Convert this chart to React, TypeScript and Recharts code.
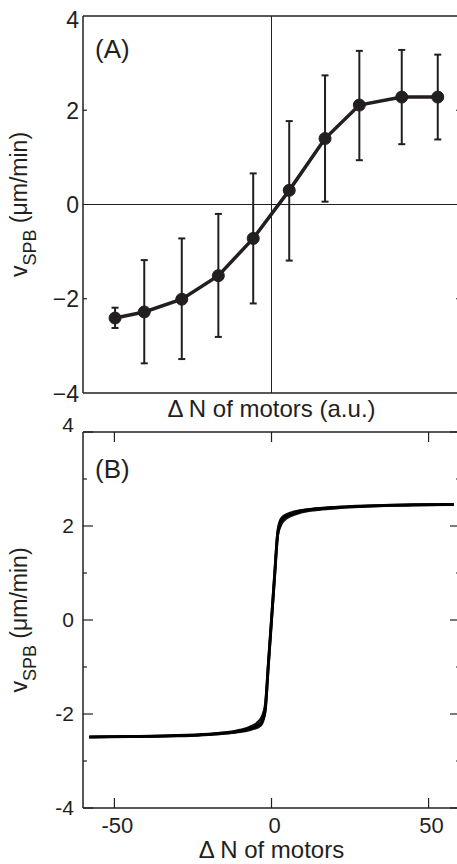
import React from 'react';
import { LineChart, Line, XAxis, YAxis, ReferenceLine, ErrorBar } from 'recharts';

// panel A: measured velocity vs motor imbalance (a.u.)
const aX = [-0.83, -0.675, -0.476, -0.282, -0.097, 0.094, 0.284, 0.466, 0.691, 0.882];
const aMean = [-2.41, -2.28, -2.01, -1.51, -0.72, 0.3, 1.4, 2.11, 2.28, 2.28];
const aLow = [-2.62, -3.37, -3.28, -2.81, -2.1, -1.19, 0.06, 0.94, 1.28, 1.38];
const aHigh = [-2.19, -1.18, -0.72, -0.2, 0.66, 1.77, 2.74, 3.26, 3.28, 3.18];

// panel B: model curves
const bX = [-58, -45, -30, -20, -14, -10, -7, -5, -4, -3, -2, -1, 0, 1, 2, 3, 4, 6, 9, 14, 20, 30, 45, 58];
const bFit1 = [-2.49, -2.48, -2.46, -2.43, -2.4, -2.36, -2.31, -2.26, -2.22, -2.15, -1.9, -0.95, 0.0, 0.95, 1.85, 2.1, 2.18, 2.25, 2.31, 2.36, 2.39, 2.42, 2.45, 2.46];
const bFit2 = [-2.49, -2.48, -2.46, -2.43, -2.39, -2.34, -2.28, -2.21, -2.15, -2.05, -1.8, -0.9, 0.05, 1.0, 1.9, 2.15, 2.22, 2.28, 2.33, 2.37, 2.4, 2.43, 2.45, 2.46];
const bFit3 = [-2.49, -2.48, -2.47, -2.44, -2.41, -2.38, -2.34, -2.3, -2.27, -2.2, -1.95, -1.0, -0.05, 0.9, 1.8, 2.02, 2.12, 2.21, 2.28, 2.34, 2.38, 2.42, 2.44, 2.46];

const aYTicks = [-4, -2, 0, 2, 4];
const aXTicks = [0];
const bYTicks = [-4, -3, -2, -1, 0, 1, 2, 3, 4];
const bXTicks = [-50, 0, 50];

const INK = '#231f20';
const FONT = '"Liberation Sans", Arial, Helvetica, sans-serif';

const dataA = aX.map((x, i) => ({
  x,
  v: aMean[i],
  err: [aMean[i] - aLow[i], aHigh[i] - aMean[i]],
}));

const dataB = bX.map((x, i) => ({ x, f1: bFit1[i], f2: bFit2[i], f3: bFit3[i] }));

type TickOpts = {
  side: 'left' | 'right' | 'top' | 'bottom';
  len: (v: number) => number;
  label?: (v: number) => string | null;
  gap?: number;
  dy?: number;
  topDy?: number;
  dx?: number;
  fontSize?: number;
};

// inward tick mark + outward label; tickSize/tickMargin are 0 so (x, y) sits on the axis line
function makeTick(o: TickOpts) {
  return (props: any) => {
    const { x, y, payload } = props;
    const v = payload.value as number;
    const l = o.len(v);
    let line: any = null;
    if (l > 0) {
      if (o.side === 'left') line = <line x1={x} x2={x + l} y1={y} y2={y} stroke={INK} strokeWidth={1.2} />;
      if (o.side === 'right') line = <line x1={x} x2={x - l} y1={y} y2={y} stroke={INK} strokeWidth={1.2} />;
      if (o.side === 'top') line = <line x1={x} x2={x} y1={y} y2={y + l} stroke={INK} strokeWidth={1.2} />;
      if (o.side === 'bottom') line = <line x1={x} x2={x} y1={y} y2={y - l} stroke={INK} strokeWidth={1.2} />;
    }
    const txt = o.label ? o.label(v) : null;
    let text: any = null;
    if (txt !== null) {
      if (o.side === 'left') {
        const dy = v === 4 && o.topDy !== undefined ? o.topDy : o.dy || 0;
        text = (
          <text x={x - (o.gap || 0)} y={y + dy} textAnchor="end" fill={INK} fontSize={o.fontSize} fontFamily={FONT}>
            {txt}
          </text>
        );
      }
      if (o.side === 'bottom') {
        text = (
          <text x={x + (o.dx || 0)} y={y + (o.gap || 0)} textAnchor="middle" fill={INK} fontSize={o.fontSize} fontFamily={FONT}>
            {txt}
          </text>
        );
      }
    }
    return (
      <g>
        {line}
        {text}
      </g>
    );
  };
}

function YTitle(props: any) {
  const vb = props.viewBox || { x: 0, y: 0, width: 0, height: 0 };
  const cx = vb.x + 27;
  const cy = vb.y + vb.height / 2;
  return (
    <text
      x={cx}
      y={cy}
      transform={`rotate(-90, ${cx}, ${cy})`}
      textAnchor="middle"
      fill={INK}
      fontSize={23}
      fontFamily={FONT}
    >
      v
      <tspan fontSize={18} dy={9}>SPB</tspan>
      <tspan dy={-9}> (μm/min)</tspan>
    </text>
  );
}

function XTitle(props: any) {
  const vb = props.viewBox || { x: 0, y: 0, width: 0, height: 0 };
  return (
    <text
      x={vb.x + vb.width / 2}
      y={vb.y + props.offsetY}
      textAnchor="middle"
      fill={INK}
      fontSize={24}
      fontFamily={FONT}
    >
      {props.text}
    </text>
  );
}

function PanelTag(props: any) {
  const vb = props.viewBox || { x: 0, y: 0, width: 0, height: 0 };
  return (
    <text x={vb.x + 12} y={vb.y + props.offsetY} fill={INK} fontSize={26} fontFamily={FONT}>
      {props.text}
    </text>
  );
}

const axisLine = { stroke: INK, strokeWidth: 1.5 };

export default function App() {
  return (
    <div
      style={{
        position: 'absolute',
        left: 0,
        top: 0,
        width: 457,
        height: 864,
        overflow: 'hidden',
        background: '#fff',
      }}
    >
      {/* (A) */}
      <div style={{ position: 'absolute', left: 0, top: 0 }}>
        <LineChart width={480} height={430} data={dataA} margin={{ top: 15, right: 19, bottom: 0, left: 0 }}>
          <XAxis
            dataKey="x"
            type="number"
            domain={[-1, 1]}
            allowDataOverflow
            ticks={aXTicks}
            interval={0}
            tickSize={0}
            tickMargin={0}
            tickLine={false}
            tick={makeTick({ side: 'bottom', len: () => 0 })}
            axisLine={axisLine}
            height={37}
            label={<XTitle text="Δ N of motors (a.u.)" offsetY={24} />}
          />
          <XAxis
            xAxisId="top"
            dataKey="x"
            orientation="top"
            type="number"
            domain={[-1, 1]}
            allowDataOverflow
            ticks={aXTicks}
            interval={0}
            tickSize={0}
            tickMargin={0}
            tickLine={false}
            tick={makeTick({ side: 'top', len: () => 0 })}
            axisLine={axisLine}
            height={1}
            label={<PanelTag text="(A)" offsetY={43} />}
          />
          <YAxis
            type="number"
            domain={[-4, 4]}
            allowDataOverflow
            ticks={aYTicks}
            interval={0}
            width={83}
            tickSize={0}
            tickMargin={0}
            tickLine={false}
            axisLine={axisLine}
            tick={makeTick({
              side: 'left',
              len: (v) => (Math.abs(v) === 2 ? 4 : 0),
              label: (v) => (v < 0 ? '\u2212' + Math.abs(v) : String(v)),
              gap: 4,
              dy: 8.5,
              topDy: 12,
              fontSize: 23,
            })}
            label={<YTitle />}
          />
          <YAxis
            yAxisId="right"
            orientation="right"
            type="number"
            domain={[-4, 4]}
            allowDataOverflow
            ticks={aYTicks}
            interval={0}
            width={1}
            tickSize={0}
            tickMargin={0}
            tickLine={false}
            axisLine={axisLine}
            tick={makeTick({ side: 'right', len: (v) => (Math.abs(v) === 2 ? 4 : 0) })}
          />
          <ReferenceLine x={0} stroke={INK} strokeWidth={1} />
          <ReferenceLine y={0} stroke={INK} strokeWidth={1} />
          {/* invisible series so the top/right frame axes get drawn */}
          <Line
            xAxisId="top"
            yAxisId="right"
            dataKey="v"
            stroke="none"
            dot={false}
            activeDot={false}
            legendType="none"
            isAnimationActive={false}
          />
          <Line
            dataKey="v"
            type="linear"
            stroke={INK}
            strokeWidth={3.5}
            dot={{ r: 6, fill: INK, stroke: INK, strokeWidth: 1 }}
            activeDot={false}
            isAnimationActive={false}
          >
            <ErrorBar dataKey="err" direction="y" width={3.5} stroke={INK} strokeWidth={2} isAnimationActive={false} />
          </Line>
        </LineChart>
      </div>

      {/* (B) */}
      <div style={{ position: 'absolute', left: 0, top: 410 }}>
        <LineChart width={480} height={454} data={dataB} margin={{ top: 21, right: 19, bottom: 0, left: 0 }}>
          <XAxis
            dataKey="x"
            type="number"
            domain={[-60, 60]}
            allowDataOverflow
            ticks={bXTicks}
            interval={0}
            tickSize={0}
            tickMargin={0}
            tickLine={false}
            axisLine={axisLine}
            height={56}
            tick={makeTick({
              side: 'bottom',
              len: () => 10,
              label: (v) => String(v),
              gap: 25,
              dx: 3,
              fontSize: 22,
            })}
            label={<XTitle text="Δ N of motors" offsetY={50} />}
          />
          <XAxis
            xAxisId="top"
            dataKey="x"
            orientation="top"
            type="number"
            domain={[-60, 60]}
            allowDataOverflow
            ticks={bXTicks}
            interval={0}
            tickSize={0}
            tickMargin={0}
            tickLine={false}
            axisLine={axisLine}
            height={1}
            tick={makeTick({ side: 'top', len: () => 10 })}
            label={<PanelTag text="(B)" offsetY={47} />}
          />
          <YAxis
            type="number"
            domain={[-4, 4]}
            allowDataOverflow
            ticks={bYTicks}
            interval={0}
            width={83}
            tickSize={0}
            tickMargin={0}
            tickLine={false}
            axisLine={axisLine}
            tick={makeTick({
              side: 'left',
              len: (v) => (v % 2 === 0 ? 10 : 4),
              label: (v) => (v % 2 === 0 ? String(v) : null),
              gap: 9,
              dy: 6.5,
              topDy: 0,
              fontSize: 21,
            })}
            label={<YTitle />}
          />
          <YAxis
            yAxisId="right"
            orientation="right"
            type="number"
            domain={[-4, 4]}
            allowDataOverflow
            ticks={bYTicks}
            interval={0}
            width={1}
            tickSize={0}
            tickMargin={0}
            tickLine={false}
            axisLine={axisLine}
            tick={makeTick({ side: 'right', len: (v) => (v % 2 === 0 ? 10 : 4) })}
          />
          <Line
            xAxisId="top"
            yAxisId="right"
            dataKey="f1"
            stroke="none"
            dot={false}
            activeDot={false}
            legendType="none"
            isAnimationActive={false}
          />
          <Line dataKey="f3" type="monotone" stroke="#111" strokeWidth={2.5} dot={false} activeDot={false} isAnimationActive={false} />
          <Line dataKey="f2" type="monotone" stroke="#111" strokeWidth={2.5} dot={false} activeDot={false} isAnimationActive={false} />
          <Line dataKey="f1" type="monotone" stroke="#000" strokeWidth={3} dot={false} activeDot={false} isAnimationActive={false} />
        </LineChart>
      </div>
    </div>
  );
}
